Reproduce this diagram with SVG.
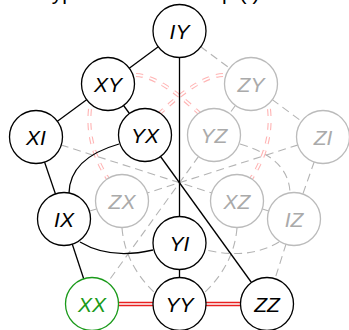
<svg xmlns="http://www.w3.org/2000/svg" width="349" height="330" viewBox="0 0 349 330">
  <style>
    .title { font-family: "Liberation Sans", Arial, sans-serif; font-size: 21px; fill: #000; }
    .lbl { font-family: "Liberation Sans", Arial, sans-serif; font-size: 21px; font-style: italic; text-anchor: middle; }
    .node circle { fill: #fff; stroke-width: 1.3; }
    .solid circle { stroke: #000; }
    .solid text { fill: #000; }
    .faint circle { stroke: #bbbbbb; }
    .faint text { fill: #aaaaaa; }
    .green circle { stroke: #1a9a1a; }
    .green text { fill: #1a9a1a; }
    .e { fill: none; stroke: #000; stroke-width: 1.3; }
    .d { fill: none; stroke: #b4b4b4; stroke-width: 1.1; stroke-dasharray: 8 5; }
    .rd-o { fill: none; stroke: #ffb4b4; stroke-width: 4; stroke-dasharray: 7 7; }
    .rd-i { fill: none; stroke: #fff; stroke-width: 1.8; stroke-dasharray: 7 7; }
    .r-o { fill: none; stroke: #e82020; stroke-width: 4.6; }
    .r-i { fill: none; stroke: #fff; stroke-width: 1.6; }
  </style>

  <text class="title" x="40" y="0">Type-I stabilizer map (I)</text>

  <g id="connectors">
    <!-- faint dashed edges -->
    <line class="d" x1="179.5" y1="31" x2="251" y2="84"/>
    <line class="d" x1="251" y1="84" x2="323" y2="137"/>
    <line class="d" x1="251" y1="84" x2="214" y2="135"/>
    <line class="d" x1="323" y1="137" x2="294" y2="219"/>
    <line class="d" x1="214" y1="135" x2="92" y2="304"/>
    <line class="d" x1="294" y1="219" x2="267" y2="304"/>
    <line class="d" x1="36" y1="137" x2="237" y2="201"/>
    <line class="d" x1="323" y1="137" x2="122" y2="201"/>
    <line class="d" x1="64" y1="219" x2="122" y2="201"/>
    <line class="d" x1="237" y1="201" x2="294" y2="219"/>
    <path class="d" d="M240,144 Q289,158 290,193"/>
    <path class="d" d="M279,242 Q249,260 206,250"/>
    <path class="d" d="M122,228 Q125,265 156,294"/>
    <path class="d" d="M237,228 Q234,265 203,294"/>

    <!-- pale double dashed edges -->
    <path class="rd-o" d="M136,75 Q160,76 200,114"/>
    <path class="rd-i" d="M136,75 Q160,76 200,114"/>
    <path class="rd-o" d="M223,75 Q199,76 159,114"/>
    <path class="rd-i" d="M223,75 Q199,76 159,114"/>
    <path class="rd-o" d="M90,109 Q86,145 108,179"/>
    <path class="rd-i" d="M90,109 Q86,145 108,179"/>
    <path class="rd-o" d="M269,109 Q273,145 251,179"/>
    <path class="rd-i" d="M269,109 Q273,145 251,179"/>

    <!-- solid edges -->
    <line class="e" x1="179.5" y1="31" x2="108" y2="84"/>
    <line class="e" x1="179.5" y1="31" x2="179.5" y2="243"/>
    <line class="e" x1="108" y1="84" x2="36" y2="137"/>
    <line class="e" x1="108" y1="84" x2="145" y2="135"/>
    <line class="e" x1="36" y1="137" x2="64" y2="219"/>
    <line class="e" x1="145" y1="135" x2="267" y2="304"/>
    <line class="e" x1="64" y1="219" x2="92" y2="304"/>
    <line class="e" x1="179.5" y1="243" x2="179.5" y2="304"/>
    <path class="e" d="M119,144 Q70,158 69,193"/>
    <path class="e" d="M80,242 Q110,260 153,250"/>

    <!-- red double edges -->
    <line class="r-o" x1="118" y1="304" x2="153" y2="304"/>
    <line class="r-i" x1="118" y1="304" x2="153" y2="304"/>
    <line class="r-o" x1="206" y1="304" x2="241" y2="304"/>
    <line class="r-i" x1="206" y1="304" x2="241" y2="304"/>
  </g>

  <g id="ZY" class="node faint"><circle cx="251" cy="84" r="26.5"/><text class="lbl" x="251" y="91.5">ZY</text></g>
  <g id="YZ" class="node faint"><circle cx="214" cy="135" r="26.5"/><text class="lbl" x="214" y="142.5">YZ</text></g>
  <g id="ZI" class="node faint"><circle cx="323" cy="137" r="26.5"/><text class="lbl" x="323" y="144.5">ZI</text></g>
  <g id="ZX" class="node faint"><circle cx="122" cy="201" r="26.5"/><text class="lbl" x="122" y="208.5">ZX</text></g>
  <g id="XZ" class="node faint"><circle cx="237" cy="201" r="26.5"/><text class="lbl" x="237" y="208.5">XZ</text></g>
  <g id="IZ" class="node faint"><circle cx="294" cy="219" r="26.5"/><text class="lbl" x="294" y="226.5">IZ</text></g>

  <g id="IY" class="node solid"><circle cx="179.5" cy="31" r="26.5"/><text class="lbl" x="179.5" y="38.5">IY</text></g>
  <g id="XY" class="node solid"><circle cx="108" cy="84" r="26.5"/><text class="lbl" x="108" y="91.5">XY</text></g>
  <g id="XI" class="node solid"><circle cx="36" cy="137" r="26.5"/><text class="lbl" x="36" y="144.5">XI</text></g>
  <g id="YX" class="node solid"><circle cx="145" cy="135" r="26.5"/><text class="lbl" x="145" y="142.5">YX</text></g>
  <g id="IX" class="node solid"><circle cx="64" cy="219" r="26.5"/><text class="lbl" x="64" y="226.5">IX</text></g>
  <g id="YI" class="node solid"><circle cx="179.5" cy="243" r="26.5"/><text class="lbl" x="179.5" y="250.5">YI</text></g>
  <g id="YY" class="node solid"><circle cx="179.5" cy="304" r="26.5"/><text class="lbl" x="179.5" y="311.5">YY</text></g>
  <g id="ZZ" class="node solid"><circle cx="267" cy="304" r="26.5"/><text class="lbl" x="267" y="311.5">ZZ</text></g>
  <g id="XX" class="node green"><circle cx="92" cy="304" r="26.5"/><text class="lbl" x="92" y="311.5">XX</text></g>
</svg>
